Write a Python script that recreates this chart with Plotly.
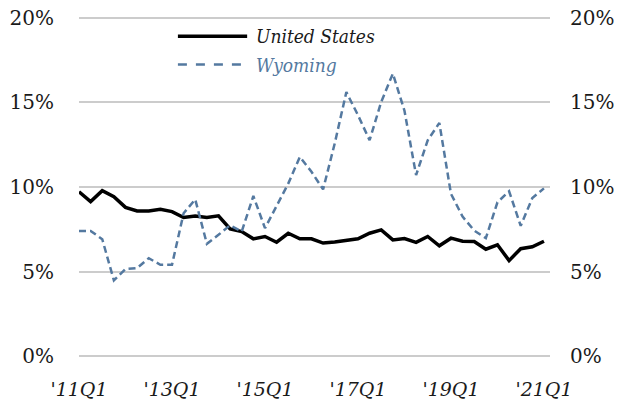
import plotly.graph_objects as go

years = list(range(2011, 2022))
quarters = [f"{y}Q{q}" for y in years for q in (1, 2, 3, 4)][:41]

us_rate = [9.72, 9.14, 9.78, 9.43, 8.8, 8.59, 8.59, 8.69, 8.55, 8.2, 8.29, 8.2, 8.3,
           7.52, 7.37, 6.94, 7.08, 6.74, 7.27, 6.94, 6.94, 6.69, 6.75, 6.82, 6.94, 7.27,
           7.47, 6.88, 6.96, 6.73, 7.08, 6.53, 6.98, 6.8, 6.78, 6.33, 6.59, 5.66, 6.36,
           6.47, 6.8]
wy_rate = [7.41, 7.41, 6.92, 4.49, 5.16, 5.22, 5.8, 5.41, 5.41, 8.45, 9.27, 6.65, 7.18,
           7.74, 7.37, 9.47, 7.57, 8.84, 10.2, 11.78, 10.9, 9.86, 12.57, 15.6, 14.24, 12.76,
           15.02, 16.69, 14.5, 10.7, 12.76, 13.78, 9.6, 8.25, 7.43, 6.98, 9.1, 9.75, 7.71,
           9.35, 9.92]

tick_quarters = ["2011Q1", "2013Q1", "2015Q1", "2017Q1", "2019Q1", "2021Q1"]
tick_text = ["'11Q1", "'13Q1", "'15Q1", "'17Q1", "'19Q1", "'21Q1"]
y_ticks = [0, 5, 10, 15, 20]
y_text = ["0%", "5%", "10%", "15%", "20%"]

US_COLOR = "#000000"
WY_COLOR = "#5479a0"
FONT = "DejaVu Serif"
LEG_FONT = "DejaVu Serif Condensed, DejaVu Serif"
TXT = "#1a1a1a"

fig = go.Figure()
fig.add_trace(go.Scatter(x=quarters, y=us_rate, mode="lines", name="United States",
                         line=dict(color=US_COLOR, width=3.5), showlegend=False))
fig.add_trace(go.Scatter(x=quarters, y=wy_rate, mode="lines", name="Wyoming",
                         line=dict(color=WY_COLOR, width=2.5, dash="7px,4px"), showlegend=False))
fig.add_trace(go.Scatter(x=quarters, y=us_rate, xaxis="x", yaxis="y2", mode="lines",
                         line=dict(width=0, color="rgba(0,0,0,0)"), hoverinfo="skip", showlegend=False))

Y_RANGE = [-0.15, 20.15]

fig.update_layout(
    width=621, height=398,
    margin=dict(l=71, r=79, t=6.5, b=46.5, autoexpand=False),
    paper_bgcolor="white", plot_bgcolor="white",
    font=dict(family=FONT, size=20, color=TXT),
    xaxis=dict(type="category", range=[0, 40.52], tickvals=tick_quarters, ticktext=tick_text,
               showgrid=False, zeroline=False, showline=False, ticks="outside", ticklen=13,
               tickcolor="rgba(0,0,0,0)", automargin=False, ticklabeloverflow="allow",
               tickfont=dict(family=FONT, size=19, style="italic", color=TXT)),
    yaxis=dict(range=Y_RANGE, tickvals=y_ticks, ticktext=y_text, showgrid=True,
               gridcolor="#cccccc", gridwidth=2, zeroline=False, showline=False,
               ticks="outside", ticklen=20, tickcolor="rgba(0,0,0,0)", automargin=False,
               ticklabeloverflow="allow",
               tickfont=dict(family=FONT, size=20, color=TXT)),
    yaxis2=dict(range=Y_RANGE, tickvals=y_ticks, ticktext=y_text, overlaying="y",
                side="right", showgrid=False, zeroline=False, showline=False,
                ticks="outside", ticklen=15, tickcolor="rgba(0,0,0,0)", automargin=False,
                ticklabeloverflow="allow",
                tickfont=dict(family=FONT, size=20, color=TXT)),
)

legend_items = [("United States", US_COLOR, 3.5, "solid", 0.938),
                ("Wyoming", WY_COLOR, 2.5, "dash", 0.856)]
for name, col, w, dash, yy in legend_items:
    fig.add_shape(type="line", xref="paper", yref="paper", x0=0.21, x1=0.357, y0=yy, y1=yy,
                  line=dict(color=col, width=w, dash=dash))
    fig.add_annotation(xref="paper", yref="paper", x=0.372, y=yy, text=name, showarrow=False,
                       xanchor="left", yanchor="middle",
                       font=dict(family=LEG_FONT, size=19, style="italic",
                                 color=col if col != US_COLOR else TXT))

fig.write_html("out.html")
